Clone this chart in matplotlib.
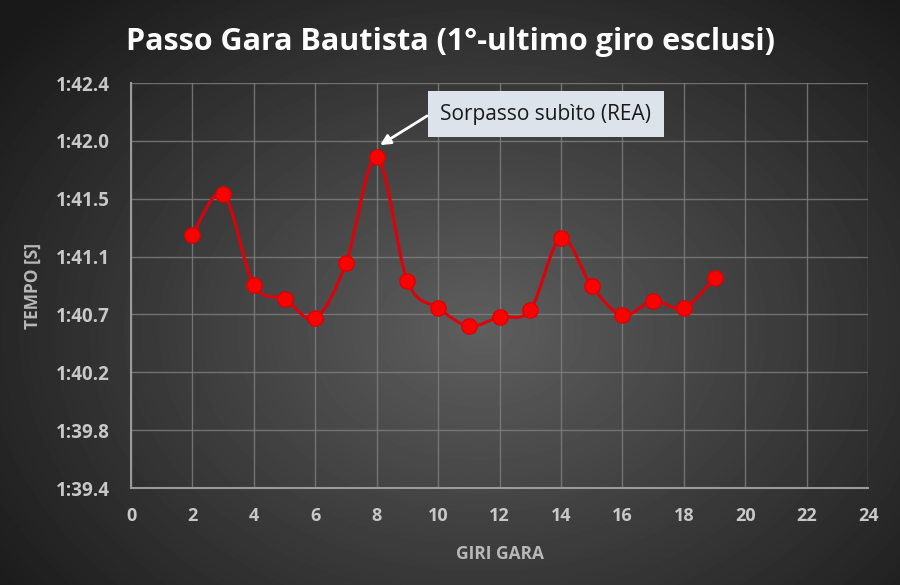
import numpy as np
import matplotlib.pyplot as plt
from matplotlib.path import Path
from matplotlib.patches import PathPatch

# dati: giri e tempi (secondi oltre 1:00)
giri = [2, 3, 4, 5, 6, 7, 8, 9, 10, 11, 12, 13, 14, 15, 16, 17, 18, 19]
tempi = [101.274, 101.578, 100.904, 100.800, 100.659, 101.067, 101.852, 100.933, 100.733,
         100.600, 100.667, 100.719, 101.252, 100.896, 100.681, 100.785, 100.733, 100.956]
y_ticks = list(np.linspace(99.4, 102.4, 8))
y_labels = ['1:39.4', '1:39.8', '1:40.2', '1:40.7', '1:41.1', '1:41.5', '1:42.0', '1:42.4']
x_ticks = list(range(0, 26, 2))

plt.rcParams['font.family'] = ['Open Sans', 'DejaVu Sans']

fig = plt.figure(figsize=(9, 5.85), dpi=100)

# sfondo con gradiente radiale
bg = fig.add_axes([0, 0, 1, 1], zorder=0)
yy, xx = np.mgrid[0:585, 0:900]
r = np.sqrt(((xx - 480) / 560.0) ** 2 + ((yy - 330) / 420.0) ** 2)
val = np.clip(0.37 - 0.25 * r, 0.10, 0.40)
bg.imshow(val, cmap='gray', vmin=0, vmax=1, aspect='auto')
bg.axis('off')

ax = fig.add_axes([0.1456, 0.1658, 0.8189, 0.6923], zorder=1)
ax.patch.set_alpha(0)

# linea smussata (Bezier tipo Catmull-Rom) sui punti
pts = np.column_stack([giri, tempi])
verts = [tuple(pts[0])]
codes = [Path.MOVETO]
for i in range(len(pts) - 1):
    p0 = pts[i - 1] if i > 0 else pts[i]
    p1 = pts[i]
    p2 = pts[i + 1]
    p3 = pts[i + 2] if i + 2 < len(pts) else pts[i + 1]
    c1 = p1 + (p2 - p0) / 6.0
    c2 = p2 - (p3 - p1) / 6.0
    verts += [tuple(c1), tuple(c2), tuple(p2)]
    codes += [Path.CURVE4] * 3
ax.add_patch(PathPatch(Path(verts, codes), facecolor='none', edgecolor='#e0000a', lw=2.2, zorder=3))
ax.plot(giri, tempi, 'o', color='#ff0000', markersize=11, markeredgecolor='#e00000', zorder=4)

ax.set_xlim(0, 24)
ax.set_ylim(99.4, 102.4)
ax.set_xticks(x_ticks)
ax.set_yticks(y_ticks)
ax.set_yticklabels(y_labels)
ax.grid(True, color='#808080', lw=1, alpha=0.8)
ax.set_axisbelow(True)
for s in ['top', 'right']:
    ax.spines[s].set_visible(False)
for s in ['left', 'bottom']:
    ax.spines[s].set_color('#9a9a9a')
    ax.spines[s].set_linewidth(1.5)
ax.tick_params(axis='y', length=0, colors='#c8c8c8', labelsize=13.5, pad=15)
ax.tick_params(axis='x', length=0, colors='#c8c8c8', labelsize=13, pad=14)
for lab in ax.get_xticklabels() + ax.get_yticklabels():
    lab.set_fontweight('bold')

ax.set_xlabel('GIRI GARA', color='#b8b8b8', fontsize=12.5, fontweight='bold', labelpad=14)
ax.set_ylabel('TEMPO [S]', color='#b8b8b8', fontsize=12.5, fontweight='bold', labelpad=10)

fig.text(0.5, 0.928, 'Passo Gara Bautista (1°-ultimo giro esclusi)', color='white',
         fontsize=22, fontweight='bold', ha='center', va='center')

# riquadro nota + freccia
ax.text(13.5, 102.167, 'Sorpasso subìto (REA)', fontsize=15, color='#1a1a1a',
        ha='center', va='center', zorder=5,
        bbox=dict(boxstyle='square,pad=0.6', fc='#dce3ea', ec='none'))
ax.annotate('', xy=(8.11, 101.94), xytext=(9.64, 102.156), zorder=5,
            arrowprops=dict(arrowstyle='-|>', color='white', lw=2, mutation_scale=15,
                            shrinkA=0, shrinkB=0))

fig.savefig('out.png', dpi=100)
